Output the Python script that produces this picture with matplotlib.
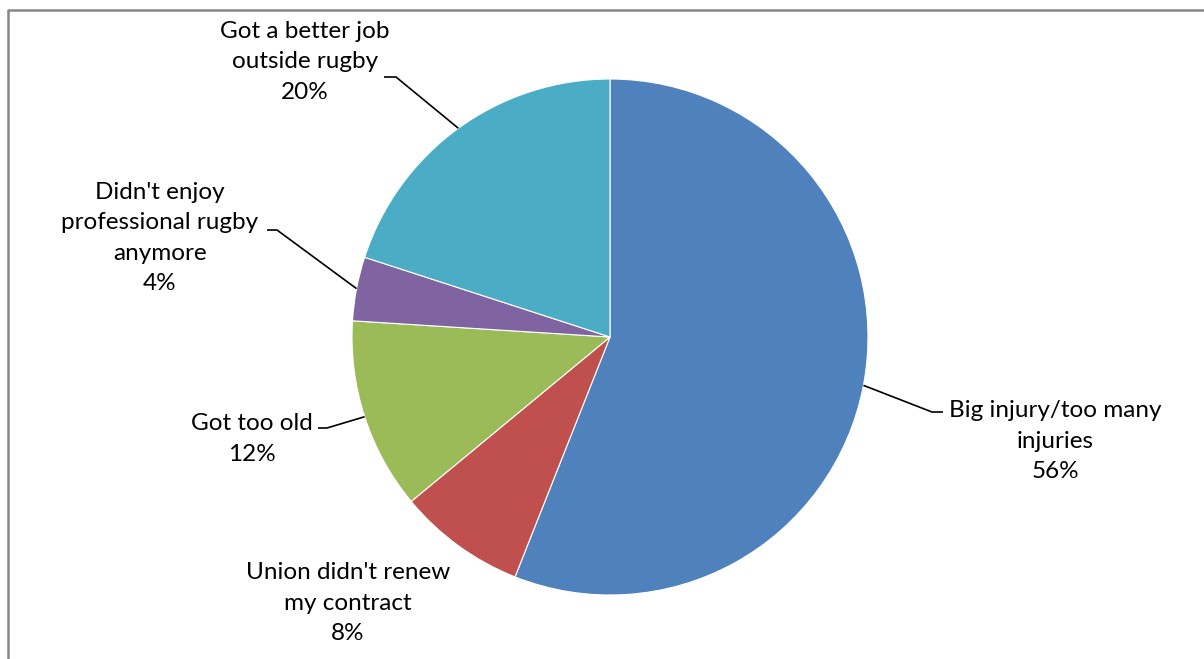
import numpy as np
import matplotlib.pyplot as plt
from matplotlib.lines import Line2D

plt.rcParams['font.family'] = ['Lato', 'DejaVu Sans']

# Reasons for leaving professional rugby (share of respondents)
reasons = ["Big injury/too many\ninjuries", "Union didn't renew\nmy contract", "Got too old",
           "Didn't enjoy\nprofessional rugby\nanymore", "Got a better job\noutside rugby"]
shares = [56, 8, 12, 4, 20]
colors = ["#4F81BD", "#C0504D", "#9BBB59", "#8064A2", "#4BACC6"]

W, H = 1204, 659
fig = plt.figure(figsize=(W / 100, H / 100), dpi=100)
ax = fig.add_axes([0, 0, 1, 1])
ax.set_aspect('equal')

cx, cy, r = 610, H - 337, 258
wedges, _ = ax.pie(shares, colors=colors, startangle=90, counterclock=False,
                   center=(cx, cy), radius=r, frame=True,
                   wedgeprops=dict(linewidth=0.8, edgecolor='white'))
ax.set_xlim(0, W)
ax.set_ylim(0, H)
ax.axis('off')

# label centre (x, y from top) and leader elbow (start, end) for each slice
label_pos = [(1055, 441), (348, 603), (252, 439), (160, 238), (305, 62)]
elbows = [((932, 412), (943, 412)), None, ((327, 428), (318, 428)),
          ((277, 230), (267, 230)), ((396, 77), (384, 77))]

for w, name, pct, pos, elb in zip(wedges, reasons, shares, label_pos, elbows):
    mid = np.deg2rad((w.theta1 + w.theta2) / 2)
    ax.text(pos[0], H - pos[1], f"{name}\n{pct}%", ha='center', va='center',
            multialignment='center', fontsize=17.5, color='black', linespacing=1.55)
    if elb is not None:
        px, py = cx + r * np.cos(mid), cy + r * np.sin(mid)
        ax.plot([px, elb[0][0], elb[1][0]], [py, H - elb[0][1], H - elb[1][1]],
                color='black', lw=1.2, solid_capstyle='butt')

# chart border (runs off the right and bottom edges)
fig.add_artist(Line2D([8 / W, 8 / W, 1.01], [-0.01, 1 - 9.5 / H, 1 - 9.5 / H],
                      transform=fig.transFigure, color='#868686', lw=1.8))

fig.savefig('out.png', dpi=100)
